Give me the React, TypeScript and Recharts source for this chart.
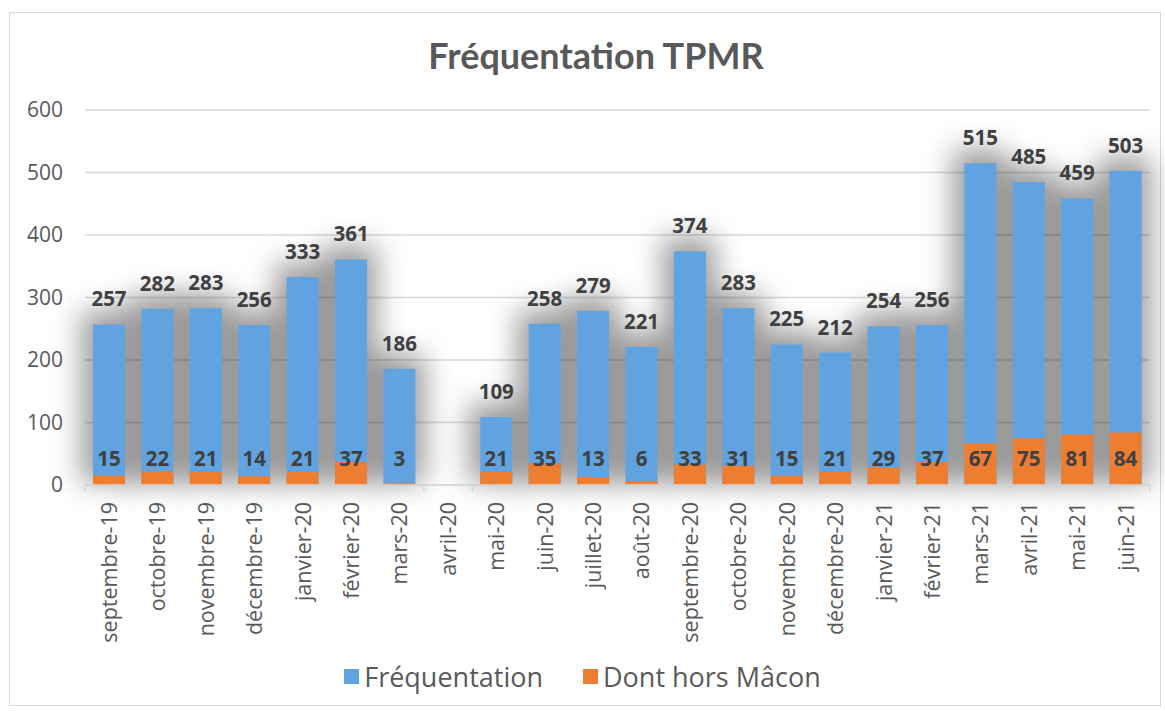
import { BarChart, Bar, XAxis, YAxis, CartesianGrid, LabelList, Legend } from "recharts";

const MONTHS = [
  "septembre-19", "octobre-19", "novembre-19", "décembre-19", "janvier-20", "février-20",
  "mars-20", "avril-20", "mai-20", "juin-20", "juillet-20", "août-20",
  "septembre-20", "octobre-20", "novembre-20", "décembre-20", "janvier-21", "février-21",
  "mars-21", "avril-21", "mai-21", "juin-21",
];
const FREQUENTATION = [257, 282, 283, 256, 333, 361, 186, null, 109, 258, 279, 221, 374, 283, 225, 212, 254, 256, 515, 485, 459, 503];
const HORS_MACON = [15, 22, 21, 14, 21, 37, 3, null, 21, 35, 13, 6, 33, 31, 15, 21, 29, 37, 67, 75, 81, 84];
const Y_TICKS = [0, 100, 200, 300, 400, 500, 600];
const SERIES_NAMES = ["Fréquentation", "Dont hors Mâcon"];

const data = MONTHS.map((m, i) => ({ mois: m, freq: FREQUENTATION[i], hors: HORS_MACON[i] }));

const GREY = "#595959";
const LABEL = "#404040";
const BLUE = "#61a3e0";
const ORANGE = "#ed7d31";
const FONT = "'Open Sans', sans-serif";

function MonthTick(props: any) {
  const { x, y, payload, index } = props;
  const half = payload.offset ?? 0;
  const last = index === MONTHS.length - 1;
  return (
    <g transform={`translate(${x},${y})`}>
      <line x1={-half} x2={-half} y1={0} y2={7} stroke="#d9d9d9" strokeWidth={1.5} />
      {last && <line x1={half} x2={half} y1={0} y2={7} stroke="#d9d9d9" strokeWidth={1.5} />}
      <text transform="rotate(-90)" x={-17} y={0} dy="0.36em" textAnchor="end"
        fill={GREY} fontSize={21.5} fontFamily={FONT}>
        {payload.value}
      </text>
    </g>
  );
}

// soft grey glow behind the blue bars (Excel shadow effect)
function GlowShape(props: any) {
  const { x, y, width, height } = props;
  if (!height) return null;
  return (
    <rect x={x - 12} y={y - 14} width={width + 22} height={height + 12}
      fill="rgba(0,0,0,0.38)" style={{ filter: "blur(14px)" }} />
  );
}

// orange labels sit at a fixed height just above the baseline
function HorsLabel(props: any) {
  const { x, y, width, height, value } = props;
  if (value == null) return null;
  return (
    <text x={x + width / 2} y={y + height - 19} textAnchor="middle"
      fill={LABEL} fontSize={20.5} fontWeight={700} fontFamily={FONT}>
      {value}
    </text>
  );
}

function LegendBox(props: any) {
  const items = (props.payload || [])
    .filter((it: any) => SERIES_NAMES.includes(it.value))
    .sort((a: any, b: any) => SERIES_NAMES.indexOf(a.value) - SERIES_NAMES.indexOf(b.value));
  return (
    <div style={{ display: "flex", justifyContent: "center", gap: 40, fontFamily: FONT, fontSize: 27, color: GREY }}>
      {items.map((it: any) => (
        <div key={it.value} style={{ display: "flex", alignItems: "center" }}>
          <span style={{ width: 15, height: 15, background: it.color, display: "inline-block", marginRight: 5 }} />
          <span>{it.value}</span>
        </div>
      ))}
    </div>
  );
}

export default function App() {
  return (
    <div style={{ position: "absolute", left: 0, top: 0, width: 1165, height: 711, background: "#fff" }}>
      <div style={{ position: "absolute", left: 9, top: 12, width: 1150, height: 692, border: "1.5px solid #d9d9d9" }} />
      <div style={{
        position: "absolute", left: 0, width: 1192, top: 33, textAlign: "center",
        fontFamily: "Lato, sans-serif", fontWeight: 700, fontSize: 36, color: GREY,
      }}>
        Fréquentation TPMR
      </div>
      <div style={{ position: "absolute", left: 0, top: 0 }}>
        <BarChart width={1165} height={711} data={data} barSize={32} barGap={-32}
          margin={{ top: 110, right: 15, bottom: 76, left: 25 }}>
          <CartesianGrid vertical={false} stroke="#d9d9d9" strokeWidth={1.5} />
          <XAxis dataKey="mois" interval={0} height={150} tickSize={0} tickMargin={0}
            axisLine={{ stroke: "#d9d9d9", strokeWidth: 1.5 }} tickLine={false} tick={<MonthTick />} />
          <YAxis domain={[0, 600]} ticks={Y_TICKS} width={60} tickSize={0} tickMargin={22}
            axisLine={false} tickLine={false}
            tick={{ fill: GREY, fontSize: 21, fontFamily: FONT }} />
          <Legend verticalAlign="middle" align="center" content={<LegendBox />}
            wrapperStyle={{ top: 658, left: 0, width: 1165 }} />
          <Bar dataKey="freq" name="glow" legendType="none" shape={<GlowShape />} isAnimationActive={false} />
          <Bar dataKey="freq" name="Fréquentation" fill={BLUE} isAnimationActive={false}>
            <LabelList dataKey="freq" position="top" offset={18} fill={LABEL} fontSize={20.5}
              fontWeight={700} fontFamily={FONT} />
          </Bar>
          <Bar dataKey="hors" name="Dont hors Mâcon" fill={ORANGE} isAnimationActive={false}>
            <LabelList dataKey="hors" content={<HorsLabel />} />
          </Bar>
        </BarChart>
      </div>
    </div>
  );
}
